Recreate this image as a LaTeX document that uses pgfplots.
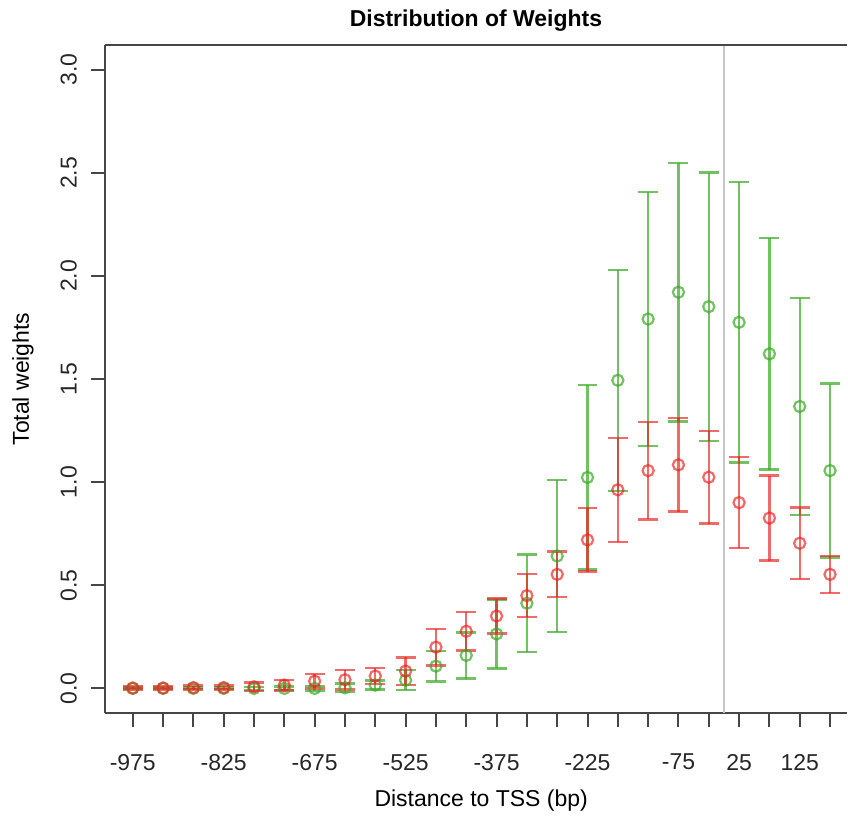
\documentclass[border=0pt]{standalone}
\usepackage{pgfplots}
\pgfplotsset{compat=1.18}
\usepackage{pgfplotstable}
\usepackage{fontspec}
\setmainfont{Liberation Sans}

\definecolor{grn}{RGB}{60,170,40}
\definecolor{rd}{RGB}{235,35,35}
\definecolor{axgray}{RGB}{70,70,70}

% x, mean, sd
\pgfplotstableread{
x y e
-975 0.000 0.004
-925 0.000 0.004
-875 0.000 0.004
-825 0.000 0.004
-775 0.000 0.008
-725 0.000 0.009
-675 0.000 0.012
-625 0.003 0.020
-575 0.016 0.022
-525 0.040 0.048
-475 0.108 0.074
-425 0.160 0.112
-375 0.264 0.167
-325 0.413 0.236
-275 0.642 0.368
-225 1.023 0.447
-175 1.494 0.536
-125 1.791 0.616
-75  1.921 0.626
-25  1.851 0.650
25   1.775 0.680
75   1.622 0.561
125  1.367 0.527
175  1.056 0.422
}\green

\pgfplotstableread{
x y e
-975 0.002 0.007
-925 0.002 0.007
-875 0.004 0.010
-825 0.004 0.010
-775 0.008 0.020
-725 0.016 0.026
-675 0.035 0.035
-625 0.042 0.047
-575 0.060 0.040
-525 0.084 0.066
-475 0.200 0.088
-425 0.277 0.094
-375 0.351 0.084
-325 0.450 0.104
-275 0.553 0.110
-225 0.720 0.154
-175 0.963 0.252
-125 1.056 0.237
-75  1.084 0.227
-25  1.024 0.225
25   0.901 0.220
75   0.826 0.206
125  0.704 0.173
175  0.553 0.090
}\red

\begin{document}
\begin{tikzpicture}
\path (-52.5pt,-49.5pt) rectangle (371.5pt,357pt);
\begin{axis}[
    scale only axis,
    width=371.5pt,
    height=334.5pt,
    xmin=-1021, xmax=203,
    ymin=-0.12, ymax=3.12,
    axis x line*=bottom,
    axis y line*=left,
    axis line style={-, draw=axgray, line width=1pt},
    tick style={draw=axgray, line width=1pt},
    tick align=outside,
    major tick length=7pt,
    xtick={-975,-925,...,175},
    xticklabels={-975,,,-825,,,-675,,,-525,,,-375,,,-225,,,-75,,25,,125,},
    ytick={0,0.5,...,3},
    yticklabels={0.0,0.5,1.0,1.5,2.0,2.5,3.0},
    every tick label/.append style={font=\fontsize{11.5}{13}\selectfont, text=black!85},
    xticklabel style={yshift=-10pt},
    yticklabel style={rotate=90, anchor=south, yshift=3.5pt},
    xlabel={Distance to TSS (bp)},
    ylabel={Total weights},
    label style={font=\fontsize{11.5}{13}\selectfont},
    xlabel style={at={(axis description cs:0.507,0)}, anchor=center, yshift=-44pt},
    ylabel style={at={(axis description cs:0,0.5)}, anchor=center, yshift=41pt},
    title={Distribution of Weights},
    title style={font=\bfseries\fontsize{11.5}{13}\selectfont, at={(axis description cs:0.5,1)}, anchor=center, yshift=6pt},
    clip=false,
]
\addplot [gray!45, line width=1pt] coordinates {(0,-0.12) (0,3.12)};
\draw [axgray, line width=1pt] (rel axis cs:0,1) -- (rel axis cs:1,1);

\addplot [grn, opacity=0.72, line width=1.1pt, only marks, mark=o, mark size=2.8pt,
    error bars/.cd, y dir=both, y explicit,
    error bar style={line width=1.2pt},
    error mark options={rotate=90, mark size=5pt, line width=1.2pt}]
    table [x=x, y=y, y error=e] {\green};

\addplot [rd, opacity=0.68, line width=1.1pt, only marks, mark=o, mark size=2.8pt,
    error bars/.cd, y dir=both, y explicit,
    error bar style={line width=1.2pt},
    error mark options={rotate=90, mark size=5pt, line width=1.2pt}]
    table [x=x, y=y, y error=e] {\red};
\end{axis}
\end{tikzpicture}
\end{document}
